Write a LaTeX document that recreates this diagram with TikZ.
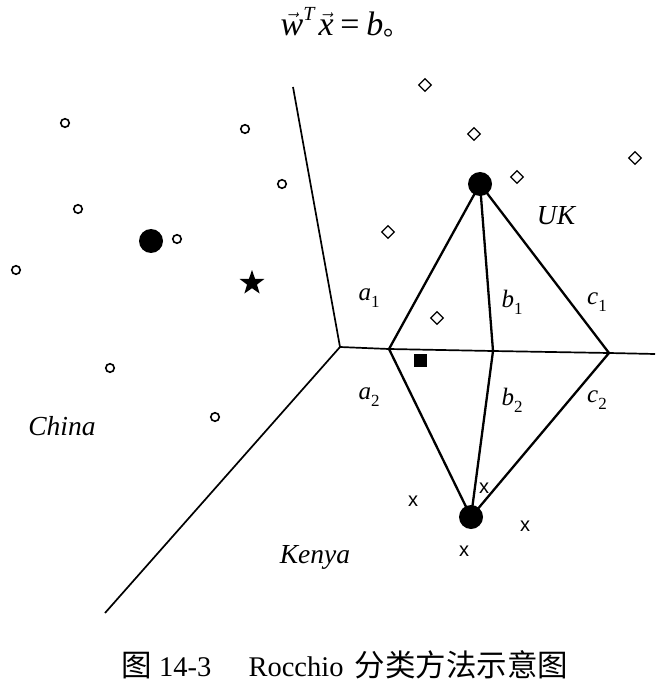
\documentclass[tikz,border=0pt]{standalone}
\usepackage{fontspec}
\setmainfont{Liberation Serif}
\setsansfont{Liberation Sans}
\newfontfamily\cjk{Noto Sans CJK SC}
\usetikzlibrary{shapes.geometric}
\newcommand{\itlab}[2]{{\itshape #1}\raisebox{-0.28em}{\fontsize{17}{17}\selectfont #2}}
\newcommand{\arrowed}[1]{$\vec{\hbox{\itshape #1}}$}
\begin{document}
\begin{tikzpicture}[x=1pt,y=-1pt,
  bound/.style={line width=1.7pt},
  tri/.style={line width=2.3pt},
  centroid/.style={circle,fill=black,inner sep=0pt,minimum size=24pt},
  dot/.style={circle,draw=black,line width=1.6pt,inner sep=0pt,minimum size=8.5pt},
  dia/.style={diamond,draw=black,line width=1.3pt,inner sep=0pt,minimum size=13pt},
  xmark/.style={font=\sffamily\fontsize{20}{20}\selectfont,inner sep=0pt},
  region/.style={font=\itshape\fontsize{27.5}{27.5}\selectfont,inner sep=0pt},
  lab/.style={font=\fontsize{25}{25}\selectfont,inner sep=0pt},
  ttl/.style={font=\fontsize{34}{34}\selectfont,inner sep=0pt}
]
\useasboundingbox (0,0) rectangle (655,684);

% title
\node[ttl] (title) at (345,22) {\arrowed{w}\raisebox{0.45em}{\fontsize{20}{20}\selectfont\itshape T}\hspace{0.12em}\arrowed{x}\hspace{0.2em}=\hspace{0.2em}{\itshape b}{\cjk\fontsize{26}{26}\selectfont 。}};

% region boundaries
\coordinate (J) at (340,347);
\coordinate (T) at (293,87);
\coordinate (BL) at (105,613);
\coordinate (P1) at (389,349);
\coordinate (P2) at (493,351);
\coordinate (P3) at (609,353);
\coordinate (R) at (655,354);
\draw[bound] (T) -- (J) -- (BL);
\draw[bound] (J) -- (P1) -- (P2) -- (P3) -- (R);

% centroids
\node[centroid] (UKc) at (480,184) {};
\node[centroid] (KEc) at (471,517) {};
\node[centroid] (CHc) at (151,241) {};

% triangles
\draw[tri] (UKc.center) -- (P1);
\draw[tri] (UKc.center) -- (P2);
\draw[tri] (UKc.center) -- (P3);
\draw[tri] (KEc.center) -- (P1);
\draw[tri] (KEc.center) -- (P2);
\draw[tri] (KEc.center) -- (P3);

% labels
\node[lab] (a1) at (369,298) {\itlab{a}{1}};
\node[lab] (b1) at (512,302) {\itlab{b}{1}};
\node[lab] (c1) at (597,302) {\itlab{c}{1}};
\node[lab] (a2) at (369,397) {\itlab{a}{2}};
\node[lab] (b2) at (512,400) {\itlab{b}{2}};
\node[lab] (c2) at (597,400) {\itlab{c}{2}};

% region names
\node[region] (UK) at (556,216) {UK};
\node[region] (China) at (62,426) {China};
\node[region] (Kenya) at (315,557) {Kenya};

% test document
\node[rectangle,fill=black,inner sep=0pt,minimum size=13pt] (sq) at (420,360) {};
\node[star,star points=5,star point ratio=2.5,fill=black,inner sep=0pt,minimum size=26pt] (st) at (252,283) {};

% UK diamonds
\node[dia] (d1) at (425,85) {};
\node[dia] (d2) at (474,134) {};
\node[dia] (d3) at (517,177) {};
\node[dia] (d4) at (635,158) {};
\node[dia] (d5) at (388,232) {};
\node[dia] (d6) at (437,318) {};

% China circles
\node[dot] (o1) at (65,123) {};
\node[dot] (o2) at (245,129) {};
\node[dot] (o3) at (282,184) {};
\node[dot] (o4) at (78,209) {};
\node[dot] (o5) at (177,239) {};
\node[dot] (o6) at (16,270) {};
\node[dot] (o7) at (110,368) {};
\node[dot] (o8) at (215,417) {};

% Kenya x
\node[xmark] (x1) at (413,501) {x};
\node[xmark] (x2) at (484,488) {x};
\node[xmark] (x3) at (525,526) {x};
\node[xmark] (x4) at (464,551) {x};

% caption
\node[inner sep=0pt,font=\fontsize{28.5}{28.5}\selectfont] (cap) at (345,665) {{\cjk\fontsize{30.5}{30.5}\selectfont 图}\hspace{0.25em}14-3\hspace{1.3em}Rocchio\hspace{0.4em}{\cjk\fontsize{30.5}{30.5}\selectfont 分类方法示意图}};
\end{tikzpicture}
\end{document}
